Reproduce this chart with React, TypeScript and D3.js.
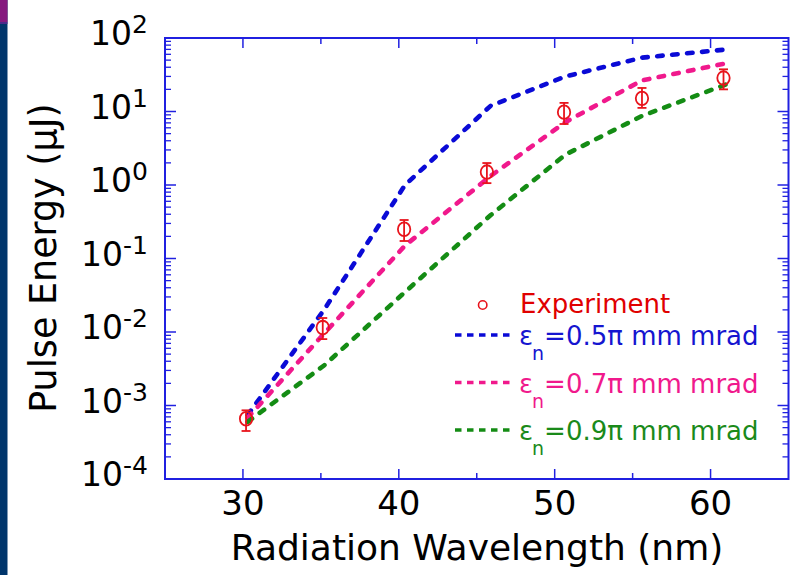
import React from "react";
import * as d3 from "d3";

// ---- data ----
const expWavelength = [30.2, 35.12, 40.34, 45.65, 50.6, 55.6, 60.83];
const expEnergy = [6.6e-4, 0.0115, 0.25, 1.5, 9.8, 15.1, 28.5];
const expLow = [4.5e-4, 0.008, 0.173, 1.06, 6.76, 11.2, 20];
const expHigh = [8.6e-4, 0.0155, 0.334, 1.99, 13.1, 20.9, 37.5];

const simWavelength = [30.3, 35.2, 40.4, 45.9, 50.7, 55.6, 61.07];
const sim05 = [7.4e-4, 0.02, 1.0, 12, 30, 54, 70];
const sim07 = [6.8e-4, 0.0095, 0.15, 1.33, 7.2, 26.5, 45.6];
const sim09 = [6.0e-4, 0.0035, 0.035, 0.39, 2.6, 8.7, 23.7];

const xTicksMajor = [30, 40, 50, 60];
const xTicksMinor = [35, 45, 55];
const yDecades = [-4, -3, -2, -1, 0, 1, 2];

const series = [
  { label: "=0.5π mm mrad", values: sim05, color: "#0a0ad6", text: "#1515d0" },
  { label: "=0.7π mm mrad", values: sim07, color: "#f0198c", text: "#f0198c" },
  { label: "=0.9π mm mrad", values: sim09, color: "#148c14", text: "#1a8a1a" },
];

const W = 796;
const H = 575;
const FONT = "'DejaVu Sans', 'Liberation Sans', Arial, sans-serif";
const AXIS = "#2020e0";
const RED = "#e8141c";

export default function App() {
  const x = d3.scaleLinear().domain([25, 65]).range([165, 788.5]);
  const y = d3.scaleLog().domain([1e-4, 1e2]).range([479, 38]);
  const [x0, x1] = x.range();
  const [yb, yt] = y.range();

  const line = d3
    .line<number>()
    .x((_, i) => x(simWavelength[i]))
    .y((v) => y(v));

  const minorY: number[] = [];
  yDecades.slice(0, -1).forEach((d) => {
    for (let k = 2; k <= 9; k++) minorY.push(k * Math.pow(10, d));
  });

  return (
    <svg
      width={W}
      height={H}
      style={{ position: "absolute", left: 0, top: 0, background: "#fff" }}
      fontFamily={FONT}
    >
      {/* slide decoration */}
      <rect x={0} y={0} width={7.5} height={H} fill="#00356b" />
      <rect x={0} y={0} width={7.5} height={22} fill="#86197f" />
      <rect x={0} y={22} width={7.5} height={2} fill="#4a2a8a" />

      {/* curves */}
      {series.map((s) => (
        <path
          key={s.label}
          d={line(s.values) || ""}
          fill="none"
          stroke={s.color}
          strokeWidth={4.6}
          strokeDasharray="5.5 9.5"
          strokeLinecap="round"
        />
      ))}

      {/* experiment */}
      {expWavelength.map((w, i) => {
        const cx = x(w);
        const cy = y(expEnergy[i]);
        return (
          <g key={i} stroke={RED} strokeWidth={1.8} fill="none">
            <line x1={cx} x2={cx} y1={y(expLow[i])} y2={y(expHigh[i])} />
            <line x1={cx - 4.5} x2={cx + 4.5} y1={y(expLow[i])} y2={y(expLow[i])} />
            <line x1={cx - 4.5} x2={cx + 4.5} y1={y(expHigh[i])} y2={y(expHigh[i])} />
            <ellipse cx={cx} cy={cy} rx={6.2} ry={6.8} />
          </g>
        );
      })}

      {/* frame */}
      <rect x={x0} y={yt} width={x1 - x0} height={yb - yt} fill="none" stroke={AXIS} strokeWidth={2} />

      {/* y ticks */}
      {yDecades.map((d) => {
        const yy = y(Math.pow(10, d));
        return (
          <g key={"ym" + d} stroke={AXIS} strokeWidth={1.5}>
            <line x1={x0} x2={x0 + 11} y1={yy} y2={yy} />
            <line x1={x1} x2={x1 - 11} y1={yy} y2={yy} />
          </g>
        );
      })}
      {minorY.map((v, i) => {
        const yy = y(v);
        return (
          <g key={"yn" + i} stroke={AXIS} strokeWidth={1.3}>
            <line x1={x0} x2={x0 + 6} y1={yy} y2={yy} />
            <line x1={x1} x2={x1 - 6} y1={yy} y2={yy} />
          </g>
        );
      })}

      {/* x ticks */}
      {xTicksMajor.map((t) => (
        <g key={"xm" + t} stroke={AXIS} strokeWidth={1.5}>
          <line x1={x(t)} x2={x(t)} y1={yb} y2={yb - 10} />
          <line x1={x(t)} x2={x(t)} y1={yt} y2={yt + 10} />
        </g>
      ))}
      {xTicksMinor.map((t) => (
        <g key={"xn" + t} stroke={AXIS} strokeWidth={1.5}>
          <line x1={x(t)} x2={x(t)} y1={yb} y2={yb - 6} />
          <line x1={x(t)} x2={x(t)} y1={yt} y2={yt + 6} />
        </g>
      ))}

      {/* x tick labels */}
      {xTicksMajor.map((t) => (
        <text key={"xl" + t} x={x(t)} y={515} fontSize={34} textAnchor="middle" fill="#000">
          {t}
        </text>
      ))}

      {/* y tick labels */}
      {yDecades.map((d) => (
        <text key={"yl" + d} x={148} y={y(Math.pow(10, d)) + 7} fontSize={33} textAnchor="end" fill="#000">
          10
          <tspan fontSize={25} dy={-12}>
            {d}
          </tspan>
        </text>
      ))}

      {/* axis titles */}
      <text x={477} y={560} fontSize={36} textAnchor="middle" fill="#000">
        Radiation Wavelength (nm)
      </text>
      <text
        transform={`translate(56,${258}) rotate(-90)`}
        fontSize={36.5}
        textAnchor="middle"
        fill="#000"
      >
        Pulse Energy (μJ)
      </text>

      {/* legend */}
      <circle cx={482.7} cy={305} r={4.2} fill="none" stroke={RED} strokeWidth={1.6} />
      <text x={520} y={313} fontSize={26} fill="#e00000">
        Experiment
      </text>
      {series.map((s, i) => {
        const ly = 335 + i * 47.5;
        return (
          <g key={"lg" + i}>
            <line
              x1={455}
              x2={510}
              y1={ly}
              y2={ly}
              stroke={s.color}
              strokeWidth={3.4}
              strokeDasharray="6.5 5.5"
            />
            <text x={519} y={ly + 10} fontSize={26} fill={s.text}>
              ε
              <tspan fontSize={19} dy={15} dx={-1}>
                n
              </tspan>
              <tspan fontSize={26} dy={-15}>
                {s.label}
              </tspan>
            </text>
          </g>
        );
      })}
    </svg>
  );
}
